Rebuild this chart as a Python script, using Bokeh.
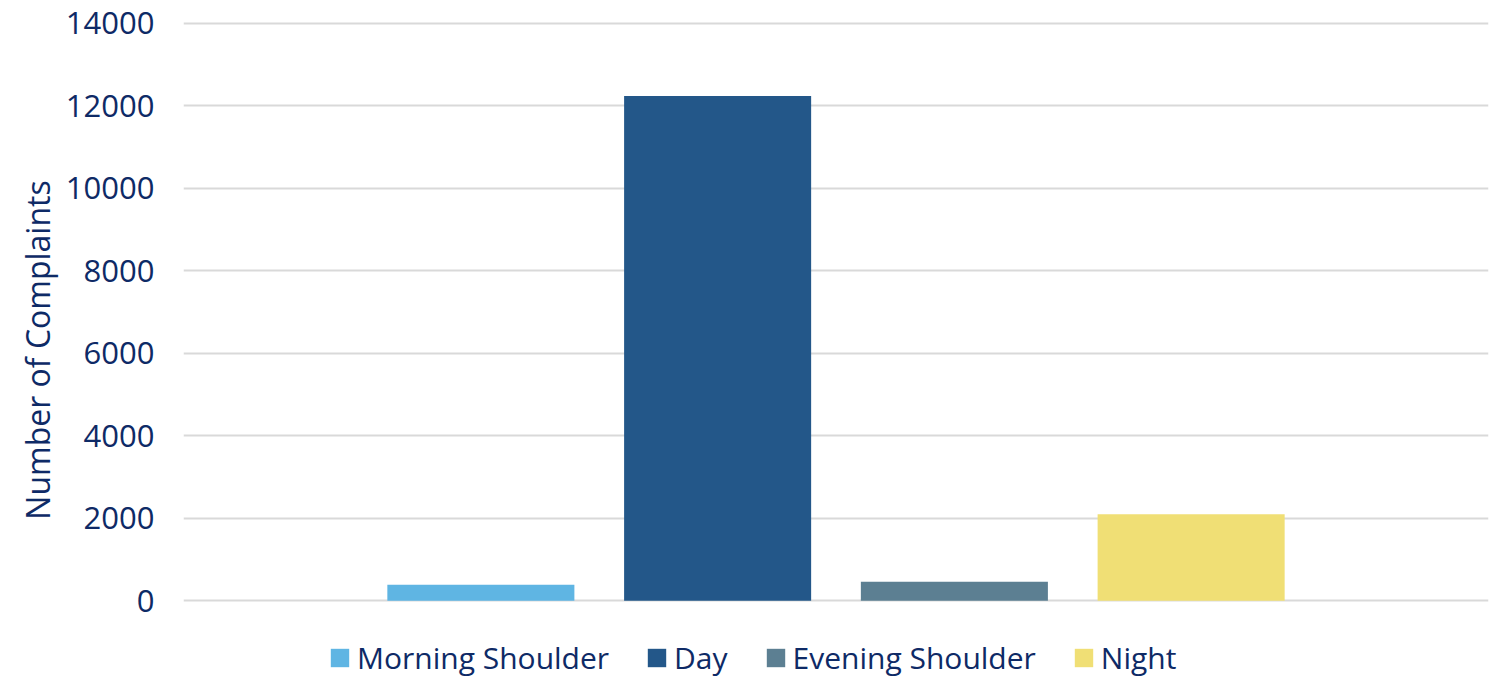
from bokeh.plotting import figure
from bokeh.models import ColumnDataSource, FactorRange, Range1d, SingleIntervalTicker, Legend, LegendItem
from bokeh.embed import file_html
from bokeh.resources import INLINE

# Complaints by time-of-day period
periods = ["Morning Shoulder", "Day", "Evening Shoulder", "Night"]
complaints = [390, 12240, 460, 2100]
colors = ["#5FB5E3", "#235789", "#5C7F92", "#F0DF75"]

TEXT = "#0E2A66"
FONT = "Open Sans"

src = ColumnDataSource(dict(period=periods, count=complaints, color=colors))

# The frame runs down to the bottom edge so the legend can sit inside it,
# under the zero line; the range start is set so that zero lands above it.
p = figure(
    width=1504, height=678,
    x_range=FactorRange(factors=periods, range_padding=0.378, range_padding_units="percent"),
    y_range=Range1d(-1883, 14048),
    output_backend="svg", toolbar_location=None,
    min_border_left=183, min_border_right=16, min_border_top=21, min_border_bottom=0,
)
p.outline_line_color = None

r = p.vbar(x="period", top="count", width=0.79, source=src,
           fill_color="color", line_color=None)

p.xaxis.visible = False
p.xgrid.grid_line_color = None
p.ygrid.grid_line_color = "#D9D9D9"
p.ygrid.grid_line_width = 2

ax = p.yaxis[0]
ax.ticker = SingleIntervalTicker(interval=2000)
ax.axis_line_color = None
ax.major_tick_line_color = None
ax.minor_tick_line_color = None
ax.major_tick_in = 0
ax.major_tick_out = 0
ax.minor_tick_in = 0
ax.minor_tick_out = 0
ax.major_label_standoff = 29
ax.major_label_text_font = FONT
ax.major_label_text_font_size = "31px"
ax.major_label_text_color = TEXT
ax.major_label_overrides = {-2000: ""}
ax.axis_label = "Number of Complaints"
ax.axis_label_text_font = FONT
ax.axis_label_text_font_size = "32px"
ax.axis_label_text_font_style = "normal"
ax.axis_label_text_color = TEXT
ax.axis_label_standoff = 4

items = [LegendItem(label=name, renderers=[r], index=i) for i, name in enumerate(periods)]
legend = Legend(
    items=items, orientation="horizontal", location=(145, 0),
    glyph_width=23, glyph_height=23, label_standoff=6, spacing=36,
    padding=0, margin=0, border_line_color=None, background_fill_alpha=0,
    label_text_font=FONT, label_text_font_size="30px", label_text_color=TEXT,
)
p.add_layout(legend, "center")

open("out.html", "w").write(file_html(p, INLINE))
